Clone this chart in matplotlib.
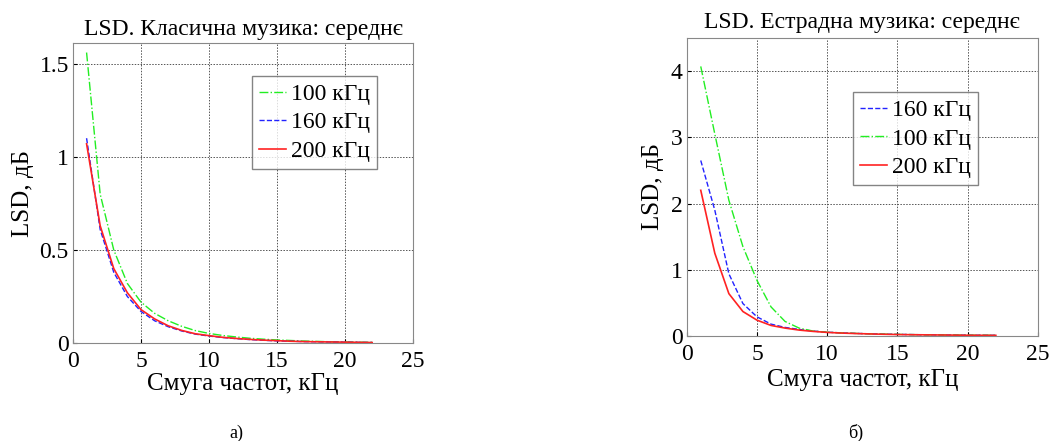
import matplotlib
matplotlib.use("Agg")
import matplotlib.pyplot as plt

# bandwidth, kHz
band = [1, 2, 3, 4, 5, 6, 7, 8, 9, 10, 11, 12, 13, 14, 15, 16, 17, 18, 19, 20, 21, 22]

# classical music, mean LSD
cl_100 = [1.56, 0.80, 0.50, 0.32, 0.22, 0.16, 0.12, 0.09, 0.067, 0.052, 0.041, 0.033, 0.026,
          0.021, 0.017, 0.014, 0.011, 0.009, 0.007, 0.006, 0.005, 0.004]
cl_160 = [1.10, 0.61, 0.38, 0.25, 0.17, 0.12, 0.088, 0.065, 0.048, 0.038, 0.030, 0.024, 0.019,
          0.015, 0.012, 0.010, 0.008, 0.007, 0.006, 0.005, 0.004, 0.003]
cl_200 = [1.07, 0.63, 0.40, 0.27, 0.18, 0.13, 0.093, 0.068, 0.050, 0.040, 0.031, 0.025, 0.020,
          0.016, 0.013, 0.010, 0.008, 0.007, 0.006, 0.005, 0.004, 0.003]

# pop music, mean LSD
pop_160 = [2.65, 1.90, 0.94, 0.49, 0.29, 0.18, 0.13, 0.10, 0.075, 0.058, 0.048, 0.040, 0.034,
           0.029, 0.025, 0.022, 0.019, 0.017, 0.015, 0.013, 0.012, 0.011]
pop_100 = [4.07, 3.05, 2.05, 1.35, 0.84, 0.44, 0.22, 0.12, 0.075, 0.058, 0.048, 0.040, 0.034,
           0.029, 0.025, 0.022, 0.019, 0.017, 0.015, 0.013, 0.012, 0.011]
pop_200 = [2.20, 1.25, 0.64, 0.37, 0.24, 0.16, 0.12, 0.09, 0.070, 0.055, 0.045, 0.038, 0.032,
           0.027, 0.023, 0.020, 0.018, 0.016, 0.014, 0.012, 0.011, 0.010]

plt.rcParams['font.family'] = ['Liberation Serif', 'DejaVu Serif']

fig = plt.figure(figsize=(10.5, 4.41), dpi=100)
ax1 = fig.add_axes([0.0695, 0.222, 0.3238, 0.680])
ax2 = fig.add_axes([0.654, 0.238, 0.3346, 0.676])


def style(ax, ylim, yticks, ylabels, ylab_x, xlab_y):
    ax.set_xlim(0, 25)
    ax.set_ylim(*ylim)
    ax.set_xticks([0, 5, 10, 15, 20, 25])
    ax.set_yticks(yticks)
    ax.set_yticklabels(ylabels)
    ax.tick_params(direction='in', length=3, labelsize=17)
    ax.tick_params(axis='x', pad=6)
    ax.tick_params(axis='y', pad=3)
    ax.grid(True, linestyle=(0, (1.5, 1.5)), color='#555555', linewidth=0.7)
    for s in ax.spines.values():
        s.set_color('#888888')
    ax.set_xlabel('Смуга частот, кГц', fontsize=18)
    ax.set_ylabel('LSD, дБ', fontsize=18)
    ax.xaxis.set_label_coords(0.5, xlab_y)
    ax.yaxis.set_label_coords(ylab_x, 0.5)


def legend(ax, anchor):
    ax.legend(loc='upper right', bbox_to_anchor=anchor, fontsize=17,
              fancybox=False, edgecolor='#666666', handlelength=1.15,
              handletextpad=0.2, borderpad=0.3, labelspacing=0.3, borderaxespad=0)


ax1.plot(band, cl_100, color='#22ee22', linestyle='-.', linewidth=1, label='100 кГц')
ax1.plot(band, cl_160, color='#2222ff', linestyle='--', linewidth=1, label='160 кГц')
ax1.plot(band, cl_200, color='#ff2222', linestyle='-', linewidth=1.2, label='200 кГц')
style(ax1, (0, 1.61), [0, 0.5, 1, 1.5], ['0', '0.5', '1', '1.5'], -0.115, -0.1)
ax1.set_title('LSD. Класична музика: середнє', fontsize=17, pad=6)
legend(ax1, (0.893, 0.89))

ax2.plot(band, pop_160, color='#2222ff', linestyle='--', linewidth=1, label='160 кГц')
ax2.plot(band, pop_100, color='#22ee22', linestyle='-.', linewidth=1, label='100 кГц')
ax2.plot(band, pop_200, color='#ff2222', linestyle='-', linewidth=1.2, label='200 кГц')
style(ax2, (0, 4.5), [0, 1, 2, 3, 4], ['0', '1', '2', '3', '4'], -0.065, -0.11)
ax2.set_title('LSD. Естрадна музика: середнє', fontsize=17, pad=7)
legend(ax2, (0.828, 0.817))

fig.text(0.225, 0.018, 'а)', fontsize=13, ha='center', va='center')
fig.text(0.815, 0.018, 'б)', fontsize=13, ha='center', va='center')

fig.savefig('out.png', dpi=100)
